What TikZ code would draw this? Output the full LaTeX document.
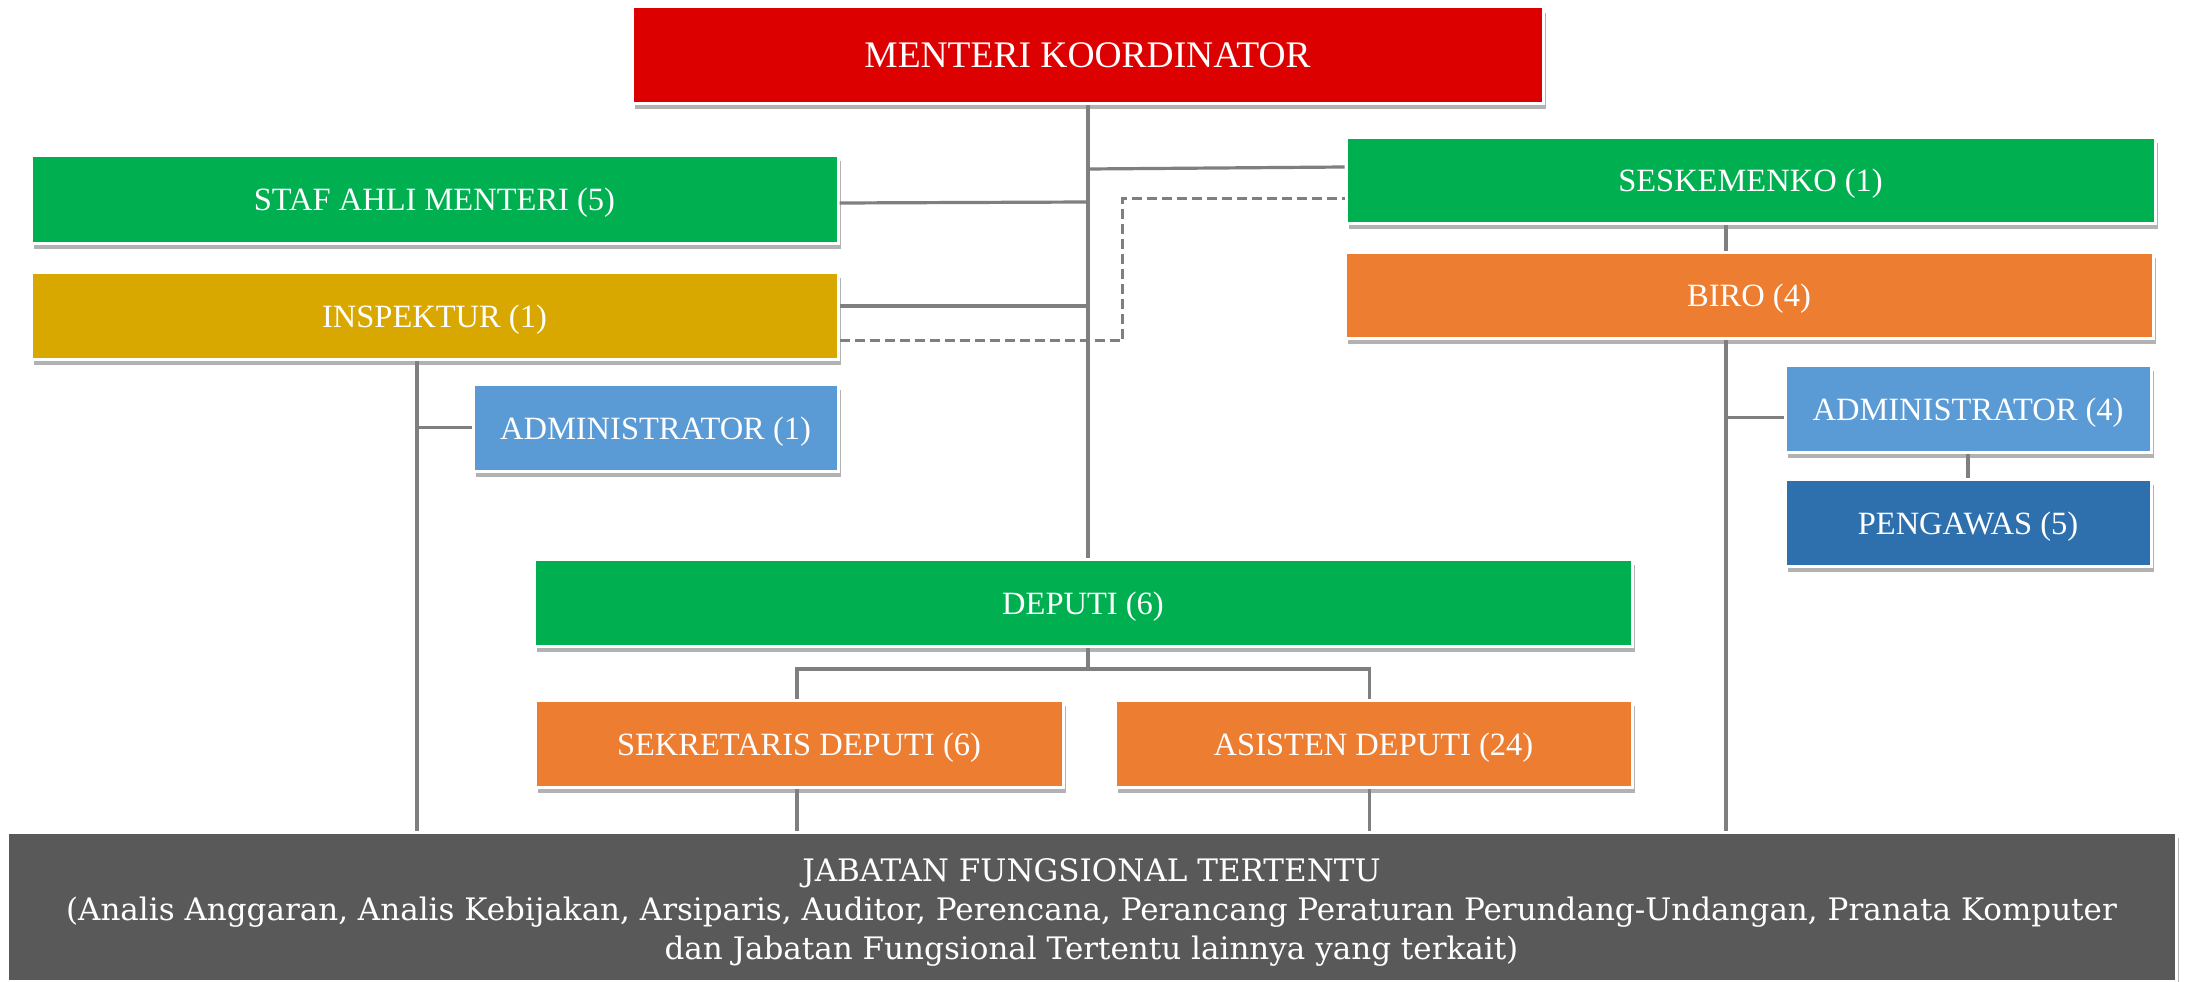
\documentclass[tikz,border=0pt]{standalone}
\usepackage{fontspec}
\setmainfont{Liberation Serif}
\newfontfamily\jffont{DejaVu Serif}
\usetikzlibrary{shadows}
\definecolor{cRed}{HTML}{DD0000}
\definecolor{cGreen}{HTML}{00B050}
\definecolor{cGold}{HTML}{D9A800}
\definecolor{cOrange}{HTML}{ED7D31}
\definecolor{cLBlue}{HTML}{5B9BD5}
\definecolor{cDBlue}{HTML}{2E70AD}
\definecolor{cGray}{HTML}{595959}
\definecolor{cLine}{HTML}{7F7F7F}
\tikzset{
  boxbase/.style={draw=white, line width=3pt, text=white, align=center, inner sep=0pt,
    drop shadow={shadow xshift=3pt, shadow yshift=-6pt, opacity=0.3, fill=black}},
  box/.style={boxbase, font=\fontsize{32.5}{39}\selectfont, text height=30pt, text depth=7pt},
  conn/.style={draw=cLine, line width=3.2pt},
  dconn/.style={draw=cLine, line width=3pt, dash pattern=on 10pt off 5pt},
}
\begin{document}
\begin{tikzpicture}[x=1pt,y=-1pt]
\useasboundingbox (0,0) rectangle (2187,982);
\fill[white] (0,0) rectangle (2187,982);
% nodes
\node[boxbase, fill=cRed, minimum width=911pt, minimum height=96pt, font=\fontsize{37.5}{45}\selectfont] (menteri) at (1087.5,55) {MENTERI KOORDINATOR};
\node[box, fill=cGreen, minimum width=807pt, minimum height=88pt] (staf) at (434.5,199) {STAF AHLI MENTERI (5)};
\node[box, fill=cGold, minimum width=807pt, minimum height=87pt] (insp) at (434.5,315.5) {INSPEKTUR (1)};
\node[box, fill=cLBlue, minimum width=365pt, minimum height=87pt] (admina) at (655.5,427.5) {ADMINISTRATOR (1)};
\node[box, fill=cGreen, minimum width=809pt, minimum height=86pt] (sesk) at (1750.5,180) {SESKEMENKO (1)};
\node[box, fill=cOrange, minimum width=808pt, minimum height=86pt] (biro) at (1749,295) {BIRO (4)};
\node[box, fill=cLBlue, minimum width=366pt, minimum height=87pt] (adminb) at (1968,408.5) {ADMINISTRATOR (4)};
\node[box, fill=cDBlue, minimum width=366pt, minimum height=87pt] (peng) at (1968,522.5) {PENGAWAS (5)};
\node[box, fill=cGreen, minimum width=1098pt, minimum height=87pt] (deputi) at (1083,602.5) {DEPUTI (6)};
\node[box, fill=cOrange, minimum width=528pt, minimum height=87pt] (sek) at (799,743.5) {SEKRETARIS DEPUTI (6)};
\node[box, fill=cOrange, minimum width=517pt, minimum height=87pt] (asis) at (1373.5,743.5) {ASISTEN DEPUTI (24)};
\node[boxbase, fill=cGray, minimum width=2169pt, minimum height=149pt, font=\jffont\fontsize{31}{39}\selectfont] (jf) at (1091.5,906.5)
  {\rule{0pt}{34pt}JABATAN FUNGSIONAL TERTENTU\\(Analis Anggaran, Analis Kebijakan, Arsiparis, Auditor, Perencana, Perancang Peraturan Perundang-Undangan, Pranata Komputer\\dan Jabatan Fungsional Tertentu lainnya yang terkait)};
% helper coordinates
\coordinate (spine) at (1088,0);
\coordinate (bx) at (1726,0);
\coordinate (ix) at (417,0);
\coordinate (brY) at (0,669);
% connectors
\draw[conn] (menteri.south -| spine) -- (deputi.north -| spine);
\draw[conn] ([yshift=-4pt]staf.east) -- ([yshift=-3pt]staf.east -| spine);
\draw[conn] ([yshift=9.5pt]insp.east) -- ([yshift=9.5pt]insp.east -| spine);
\draw[conn] ([yshift=11pt]sesk.west -| spine) -- ([yshift=13pt]sesk.west);
\draw[dconn] ([yshift=-25pt]insp.east) -- ++(283,0) |- ([yshift=-18pt]sesk.west);
\draw[conn] (sesk.south -| bx) -- (biro.north -| bx);
\draw[conn] (biro.south -| bx) -- (jf.north -| bx);
\draw[conn] ([yshift=-9pt]adminb.west) -- ([yshift=-9pt]adminb.west -| bx);
\draw[conn] (adminb.south) -- (peng.north);
\draw[conn] (insp.south -| ix) -- (jf.north -| ix);
\draw[conn] (admina.west) -- (admina.west -| ix);
\draw[conn] (deputi.south -| spine) -- (spine |- brY);
\draw[conn] ([xshift=-2pt]sek.north) -- ([xshift=-2pt]sek.north |- brY) -- ([xshift=-4pt]asis.north |- brY) -- ([xshift=-4pt]asis.north);
\draw[conn] ([xshift=-2pt]sek.south) -- ([xshift=-2pt]sek.south |- jf.north);
\draw[conn] ([xshift=-4pt]asis.south) -- ([xshift=-4pt]asis.south |- jf.north);
\end{tikzpicture}
\end{document}
